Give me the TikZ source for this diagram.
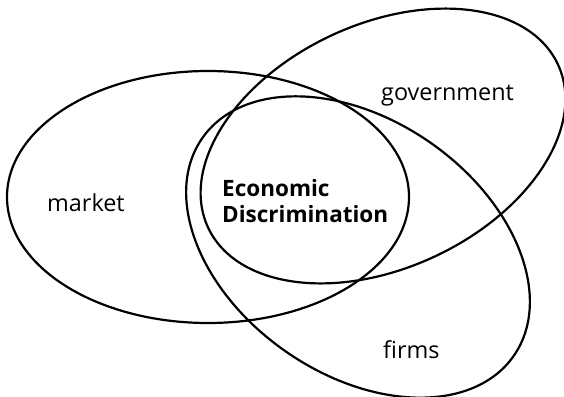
\documentclass[tikz,border=0pt]{standalone}
\usepackage{fontspec}
\setmainfont{Open Sans}
\usetikzlibrary{positioning}

\begin{document}
\begin{tikzpicture}[x=1pt,y=-1pt,
        set/.style={draw,line width=2.2pt},
        setname/.style={inner sep=0pt,anchor=base west,
          font=\fontsize{23.4}{28}\selectfont},
        corename/.style={inner sep=0pt,anchor=north west,align=left,
          font=\fontsize{22.5}{26}\selectfont\bfseries}]

  \useasboundingbox (0,0) rectangle (564,396);

  % centres of the three sets
  \coordinate (mkt) at (208,197);
  \coordinate (gov) at (383,146);
  \coordinate (frm) at (358,247);

  \draw[set] (mkt) ellipse [x radius=201, y radius=126];
  \draw[set, rotate around={25:(gov)}] (gov) ellipse [x radius=193, y radius=122];
  \draw[set, rotate around={-35:(frm)}] (frm) ellipse [x radius=190, y radius=127];

  \node[setname] (market) at (47,211) {market};
  \node[setname] (government) at (381,100) {government};
  \node[setname] (firms) at (383,358) {firms};
  \node[corename] (core) at (222,179) {Economic\\Discrimination};

\end{tikzpicture}
\end{document}
